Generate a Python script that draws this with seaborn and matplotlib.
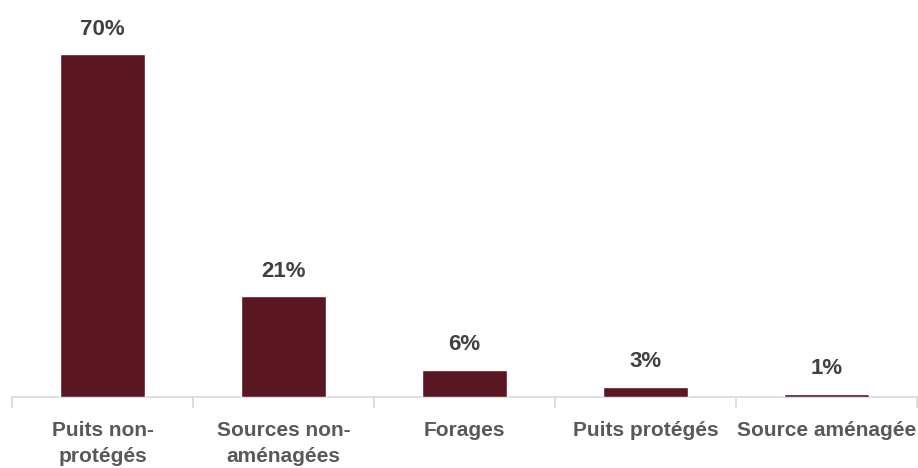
import matplotlib
matplotlib.use("Agg")
import matplotlib.pyplot as plt
import seaborn as sns
import pandas as pd

categories = ["Puits non-\nprotégés", "Sources non-\naménagées", "Forages", "Puits protégés", "Source aménagée"]
values = [70.0, 20.6, 5.5, 2.1, 0.6]
labels = ["70%", "21%", "6%", "3%", "1%"]

sns.set_theme(style="white")
plt.rcParams['font.family'] = ['Liberation Sans', 'DejaVu Sans']

df = pd.DataFrame({"cat": categories, "val": values})

fig = plt.figure(figsize=(9.18, 4.68), dpi=100)
ax = fig.add_axes([12/918, 71/468, 905/918, 387/468])
sns.barplot(data=df, x="cat", y="val", color="#5a1621", width=0.47, ax=ax, saturation=1)

ax.set_ylim(0, 79.0)
ax.set_xlim(-0.5, len(categories) - 0.5)
ax.set_xlabel("")
ax.set_ylabel("")
ax.set_yticks([])
for s in ["top", "right", "left"]:
    ax.spines[s].set_visible(False)
ax.spines["bottom"].set_color("#d9d9d9")
ax.spines["bottom"].set_linewidth(1.2)
ax.spines["bottom"].set_zorder(0.5)

ax.set_xticks(range(len(categories)))
ax.set_xticklabels(categories, fontsize=15, fontweight="bold", color="#595959", linespacing=1.5)
ax.tick_params(axis="x", length=0, pad=17)
ax.set_xticks([i - 0.5 for i in range(len(categories) + 1)], minor=True)
ax.tick_params(axis="x", which="minor", length=8, color="#d9d9d9", width=1.2, bottom=True)

for i, (v, lab) in enumerate(zip(values, labels)):
    ax.annotate(lab, (i, v), xytext=(0, 10.5), textcoords="offset points",
                ha="center", va="bottom", fontsize=16, fontweight="bold", color="#404040")

fig.savefig("out.png", dpi=100)
